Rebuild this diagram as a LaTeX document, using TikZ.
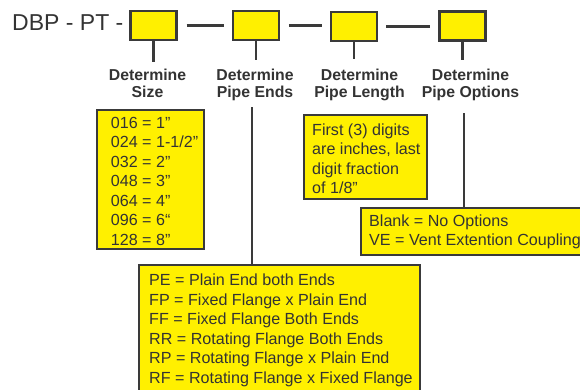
\documentclass[tikz,border=0pt]{standalone}
\usepackage{fontspec}
\setmainfont{Liberation Sans}
\definecolor{ylw}{HTML}{FFF000}
\definecolor{ink}{HTML}{333333}
\definecolor{edge}{HTML}{3A3A3A}
\begin{document}
\begin{tikzpicture}[x=1pt,y=-1pt,
  ybox/.style={draw=edge, line width=2.1pt, fill=ylw, inner sep=0pt, outer sep=0pt},
  conn/.style={draw=edge, line width=2.1pt},
  lbl/.style={font=\fontsize{15.8}{17.5}\selectfont\bfseries, text=ink, anchor=base, inner sep=0pt},
  txt/.style={font=\fontsize{16.1}{19.5}\selectfont, text=ink, anchor=base west, inner sep=0pt}]
\useasboundingbox (0,0) rectangle (580,389);

% title
\node[font=\fontsize{23}{23}\selectfont, text=ink, anchor=base west, inner sep=0pt] (title) at (12,30) {DBP - PT -};

% code boxes
\node[ybox, minimum width=46pt, minimum height=29pt] (b1) at (153.5,25.5) {};
\node[ybox, minimum width=46pt, minimum height=29pt] (b2) at (255.8,25.5) {};
\node[ybox, minimum width=46pt, minimum height=29pt] (b3) at (354,26.5) {};
\node[ybox, minimum width=46pt, minimum height=29pt] (b4) at (462.5,26) {};

% dashes between boxes
\draw[conn] ([xshift=10pt]b1.east) -- ([xshift=-9pt]b2.west |- b1.east);
\draw[conn] ([xshift=10pt]b2.east) -- ([xshift=-9pt]b3.west |- b2.east);
\draw[conn] ([xshift=9pt]b3.east) -- ([xshift=-10pt]b4.west |- b3.east);

% labels
\node[lbl] (l1) at (147.5,80) {\begin{tabular}[t]{@{}c@{}}Determine\\Size\end{tabular}};
\node[lbl] (l2) at (255,80) {\begin{tabular}[t]{@{}c@{}}Determine\\Pipe Ends\end{tabular}};
\node[lbl] (l3) at (359.5,80) {\begin{tabular}[t]{@{}c@{}}Determine\\Pipe Length\end{tabular}};
\node[lbl] (l4) at (470.5,80) {\begin{tabular}[t]{@{}c@{}}Determine\\Pipe Options\end{tabular}};

% stems
\coordinate (s1) at (153.5,62);
\coordinate (s2) at (255.8,60);
\coordinate (s3) at (354,59);
\coordinate (s4) at (462.5,60);
\draw[conn] (b1.south) -- (s1);
\draw[conn] (b2.south) -- (s2);
\draw[conn] (b3.south) -- (s3);
\draw[conn] (b4.south) -- (s4);

% detail boxes
\node[ybox, minimum width=107pt, minimum height=139pt] (sz) at (150.5,179.5) {};
\node[txt] (szt) at (110.7,128) {\begin{tabular}[t]{@{}l@{}}016 = 1”\\024 = 1-1/2”\\032 = 2”\\048 = 3”\\064 = 4”\\096 = 6“\\128 = 8”\end{tabular}};

\node[ybox, minimum width=123pt, minimum height=84pt] (len) at (365.5,157) {};
\node[txt] (lent) at (312,135) {\begin{tabular}[t]{@{}l@{}}First (3) digits\\are inches, last\\digit fraction\\of 1/8”\end{tabular}};

\node[ybox, minimum width=229pt, minimum height=47pt] (opt) at (475.5,231.5) {};
\node[txt] (optt) at (369,226) {\begin{tabular}[t]{@{}l@{}}Blank = No Options\\VE = Vent Extention Coupling\end{tabular}};

\node[ybox, minimum width=281pt, minimum height=130pt] (pe) at (279.5,330) {};
\node[txt] (pet) at (149,285.7) {\begin{tabular}[t]{@{}l@{}}PE = Plain End both Ends\\FP = Fixed Flange x Plain End\\FF = Fixed Flange Both Ends\\RR = Rotating Flange Both Ends\\RP = Rotating Flange x Plain End\\RF = Rotating Flange x Fixed Flange\end{tabular}};

% long connectors
\coordinate (p2) at (252,107);
\coordinate (p4) at (464,113);
\draw[conn] (p2) -- (p2 |- pe.north);
\draw[conn] (p4) -- (p4 |- opt.north);
\end{tikzpicture}
\end{document}
